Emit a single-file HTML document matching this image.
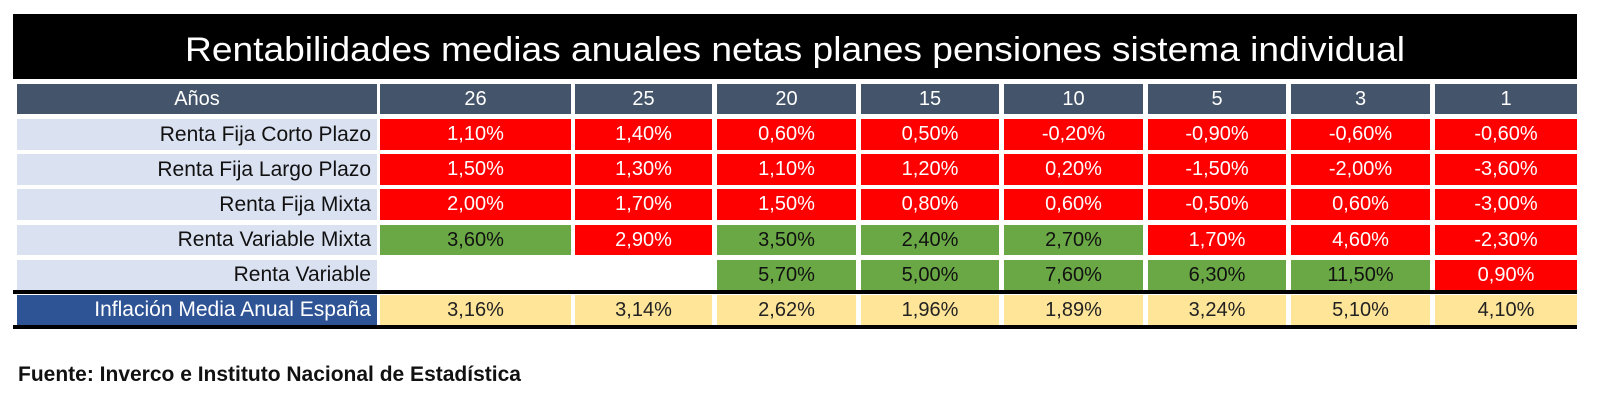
<!DOCTYPE html>
<html><head><meta charset="utf-8"><style>
body{margin:0;width:1600px;height:404px;background:#fff;position:relative;overflow:hidden;font-family:"Liberation Sans",sans-serif}
.c{position:absolute;display:flex;align-items:center;justify-content:center;font-size:20px;box-sizing:border-box}
.l{justify-content:flex-end;padding-right:6px;background:#dae1f1;color:#111;font-size:21px}
.h{background:#44546a;color:#fff}
.r{background:#ff0000;color:#fff}
.g{background:#6aa845;color:#111}
.y{background:#ffe598;color:#222}
</style></head><body>
<div style="position:absolute;left:13px;top:14px;width:1564px;height:65px;background:#000"></div>
<svg style="position:absolute;left:0;top:0" width="1600" height="90"><text x="795" y="61" text-anchor="middle" fill="#fff" font-family="Liberation Sans, sans-serif" font-size="34" textLength="1220" lengthAdjust="spacingAndGlyphs">Rentabilidades medias anuales netas planes pensiones sistema individual</text></svg>
<div style="position:absolute;left:13px;top:290px;width:1564px;height:4px;background:#000"></div>
<div style="position:absolute;left:13px;top:325px;width:1564px;height:4px;background:#000"></div>
<div id="t"></div>
<div style="position:absolute;left:18px;top:363px;font-weight:bold;font-size:21px;color:#111">Fuente: Inverco e Instituto Nacional de Estadística</div>
<script>
var cols=[[17,377],[380,571],[575,712],[717,856],[861,999],[1004,1143],[1148,1286],[1291,1430],[1435,1577]];
var rows=[[84,114],[119,150],[154,185],[189,220],[225,255],[260,290],[295,325]];
var data=[
["h:Años","h:26","h:25","h:20","h:15","h:10","h:5","h:3","h:1"],
["l:Renta Fija Corto Plazo","r:1,10%","r:1,40%","r:0,60%","r:0,50%","r:-0,20%","r:-0,90%","r:-0,60%","r:-0,60%"],
["l:Renta Fija Largo Plazo","r:1,50%","r:1,30%","r:1,10%","r:1,20%","r:0,20%","r:-1,50%","r:-2,00%","r:-3,60%"],
["l:Renta Fija Mixta","r:2,00%","r:1,70%","r:1,50%","r:0,80%","r:0,60%","r:-0,50%","r:0,60%","r:-3,00%"],
["l:Renta Variable Mixta","g:3,60%","r:2,90%","g:3,50%","g:2,40%","g:2,70%","r:1,70%","r:4,60%","r:-2,30%"],
["l:Renta Variable","w:","w:","g:5,70%","g:5,00%","g:7,60%","g:6,30%","g:11,50%","r:0,90%"],
["i:Inflación Media Anual España","y:3,16%","y:3,14%","y:2,62%","y:1,96%","y:1,89%","y:3,24%","y:5,10%","y:4,10%"]];
var h="";
for(var i=0;i<7;i++)for(var j=0;j<9;j++){
 var p=data[i][j].split(":"),k=p[0],tx=p.slice(1).join(":");
 var cls=k,st="";
 if(k=="w"){cls="";st="background:#fff;";}
 if(k=="i"){cls="l";st="background:#2f5496;color:#fff;";}
 if(k=="h"&&j==0){}
 var x0=cols[j][0],x1=cols[j][1],y0=rows[i][0],y1=rows[i][1];
 h+='<div class="c '+cls+'" style="'+st+'left:'+x0+'px;top:'+y0+'px;width:'+(x1-x0)+'px;height:'+(y1-y0)+'px">'+tx+'</div>';
}
document.getElementById("t").innerHTML=h;
</script>
</body></html>
